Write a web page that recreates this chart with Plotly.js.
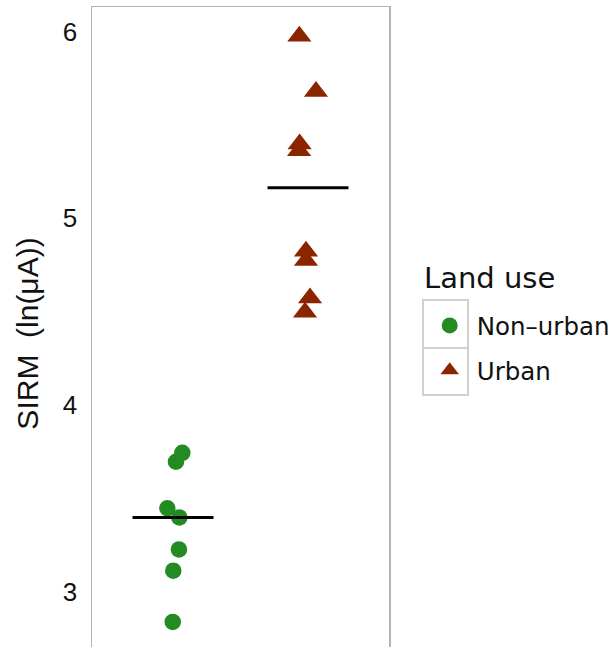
<!DOCTYPE html>
<html>
<head>
<meta charset="utf-8">
<script src="https://cdn.plot.ly/plotly-3.0.1.min.js"></script>
<style>
html, body { margin: 0; padding: 0; overflow: hidden; background: #fff; }
#chart { width: 611px; height: 700px; }
</style>
</head>
<body>
<div id="chart"></div>
<script>
// Categories (land use groups)
const categories = ["Non-urban", "Urban"];
const legendLabels = ["Non\u2013urban", "Urban"];
const legendTitle = "Land use";

// SIRM values, ln(µA)
const nonUrbanSIRM = [3.745, 3.697, 3.448, 3.399, 3.228, 3.114, 2.840];
const urbanSIRM    = [5.975, 5.679, 5.398, 5.362, 4.824, 4.774, 4.574, 4.497];

// horizontal jitter offsets (category units)
const nonUrbanJitter = [0.069, 0.022, -0.042, 0.047, 0.044, 0.002, -0.002];
const urbanJitter    = [-0.064, 0.059, -0.062, -0.066, -0.015, -0.015, 0.015, -0.022];

// horizontal summary line per group
const centreLine = [3.399, 5.164];

// y-axis tick values
const yTicks = [3, 4, 5, 6];

const colors = ["#228B22", "#8B2500"];
const symbols = ["circle", "triangle-up"];
const sizes = [16.5, 21];

const groups = [nonUrbanSIRM, urbanSIRM];
const jitters = [nonUrbanJitter, urbanJitter];

const traces = [];
groups.forEach((vals, i) => {
  traces.push({
    type: "scatter",
    mode: "markers",
    name: legendLabels[i],
    legendgroup: categories[i],
    x: vals.map((v, k) => (i + 1) + jitters[i][k]),
    y: vals,
    marker: { color: colors[i], symbol: symbols[i], size: sizes[i], line: { width: 0 } },
    hoverinfo: "y"
  });
});
centreLine.forEach((v, i) => {
  traces.push({
    type: "scatter",
    mode: "lines",
    x: [(i + 1) - 0.3, (i + 1) + 0.3],
    y: [v, v],
    line: { color: "#000", width: 3 },
    showlegend: false,
    hoverinfo: "skip"
  });
});

// legend key boxes (decoration), paper coordinates
const keyBoxes = [[0.5513, 0.4778], [0.4778, 0.4058]];
const shapes = keyBoxes.map(b => ({
  type: "rect", xref: "paper", yref: "paper",
  x0: 1.1145, x1: 1.266, y0: b[1], y1: b[0],
  line: { color: "#d0d0d0", width: 2 },
  fillcolor: "rgba(0,0,0,0)", layer: "below"
}));

const layout = {
  width: 611,
  height: 700,
  margin: { l: 92, r: 222, t: 7, b: 40, autoexpand: false },
  paper_bgcolor: "#fff",
  plot_bgcolor: "#fff",
  font: { family: "Liberation Sans, Arial, sans-serif", color: "#000" },
  showlegend: true,
  shapes: shapes,
  annotations: [{
    text: legendTitle, xref: "paper", yref: "paper",
    x: 1.1111, y: 0.585, xanchor: "left", yanchor: "middle", showarrow: false,
    font: { size: 29, family: "DejaVu Sans, sans-serif", color: "#111" }
  }],
  xaxis: {
    range: [0.4, 2.6],
    showgrid: false,
    zeroline: false,
    showticklabels: false,
    ticks: "",
    showline: true,
    mirror: true,
    linecolor: "#b3b3b3",
    linewidth: 1.5,
    automargin: false
  },
  yaxis: {
    range: [2.636, 6.131],
    tickvals: yTicks,
    ticktext: yTicks.map(String),
    showgrid: false,
    zeroline: false,
    ticks: "outside",
    ticklen: 8,
    tickcolor: "rgba(0,0,0,0)",
    tickfont: { size: 26, family: "Liberation Sans, Arial, sans-serif", color: "#111" },
    showline: true,
    mirror: true,
    linecolor: "#b3b3b3",
    linewidth: 1.5,
    automargin: false,
    title: { text: "SIRM  (ln(\u03bcA))", font: { size: 30, family: "Liberation Sans, Arial, sans-serif", color: "#111" }, standoff: 15 }
  },
  legend: {
    x: 1.1135, xanchor: "left",
    y: 0.5467, yanchor: "top",
    bgcolor: "rgba(0,0,0,0)",
    borderwidth: 0,
    tracegroupgap: 10,
    itemwidth: 44,
    font: { size: 24.5, family: "DejaVu Sans, sans-serif", color: "#111" }
  }
};

Plotly.newPlot("chart", traces, layout, { displayModeBar: false, staticPlot: true });
</script>
</body>
</html>
